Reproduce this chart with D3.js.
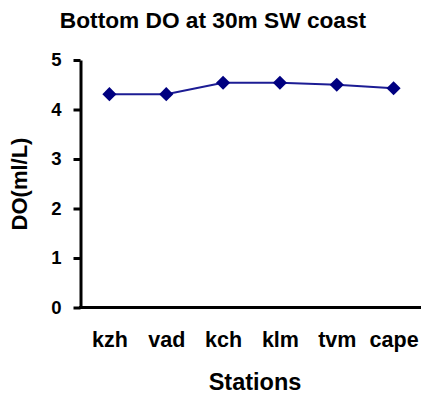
<!DOCTYPE html>
<html>
<head>
<meta charset="utf-8">
<script src="https://d3js.org/d3.v7.min.js"></script>
<style>
  body { margin: 0; background: white; }
  text { font-family: "Liberation Sans", Arial, sans-serif; font-weight: bold; }
</style>
</head>
<body>
<div id="chart"></div>
<script>
// data
const stations = ["kzh", "vad", "kch", "klm", "tvm", "cape"]
const doValues = [4.31, 4.31, 4.54, 4.54, 4.50, 4.43]
const yTicks = [0, 1, 2, 3, 4, 5]

const width = 421, height = 396
const margin = {top: 60, right: 0, bottom: 88, left: 80}

const svg = d3.select("#chart")
    .append("svg")
    .attr("width", width)
    .attr("height", height)

const x = d3.scalePoint()
    .domain(stations)
    .range([margin.left + 1, width + 1])
    .padding(0.5)

const y = d3.scaleLinear()
    .domain([0, 5])
    .range([height - margin.bottom - 0.5, margin.top])

// title
svg.append("text")
    .attr("x", 213)
    .attr("y", 28)
    .attr("text-anchor", "middle")
    .style("font-size", "22.7px")
    .text("Bottom DO at 30m SW coast")

// y axis
const yAxis = svg.append("g")
    .attr("transform", `translate(${margin.left + 0.5},0)`)
    .call(d3.axisLeft(y).tickValues(yTicks).tickFormat(d3.format("d"))
        .tickSize(7).tickSizeOuter(0).tickPadding(12))
yAxis.select(".domain").attr("stroke-width", 3)
yAxis.selectAll(".tick line").attr("stroke-width", 3)
yAxis.selectAll("text")
    .style("font-size", "18.5px")
    .attr("fill", "#000")

// x axis
const xAxis = svg.append("g")
    .attr("transform", `translate(0,${y(0)})`)
    .call(d3.axisBottom(x).tickSize(0).tickSizeOuter(0).tickPadding(24))
xAxis.select(".domain")
    .attr("d", `M${margin.left - 1},0H${width}`)
    .attr("stroke-width", 3)
xAxis.selectAll("text")
    .style("font-size", "21.5px")
    .attr("fill", "#000")

// axis titles
svg.append("text")
    .attr("x", 255)
    .attr("y", 390)
    .attr("text-anchor", "middle")
    .style("font-size", "23.5px")
    .text("Stations")

svg.append("text")
    .attr("transform", `translate(27,184) rotate(-90)`)
    .attr("text-anchor", "middle")
    .style("font-size", "22px")
    .text("DO(ml/L)")

// line + markers
const line = d3.line()
    .x((d, i) => x(stations[i]))
    .y(d => y(d))

svg.append("path")
    .datum(doValues)
    .attr("d", line)
    .attr("fill", "none")
    .attr("stroke", "#1c1c94")
    .attr("stroke-width", 2)

svg.selectAll(".marker")
    .data(doValues)
    .join("path")
    .attr("class", "marker")
    .attr("transform", (d, i) => `translate(${x(stations[i])},${y(d)}) rotate(45)`)
    .attr("d", d3.symbol().type(d3.symbolSquare).size(100))
    .attr("fill", "#000080")
</script>
</body>
</html>
